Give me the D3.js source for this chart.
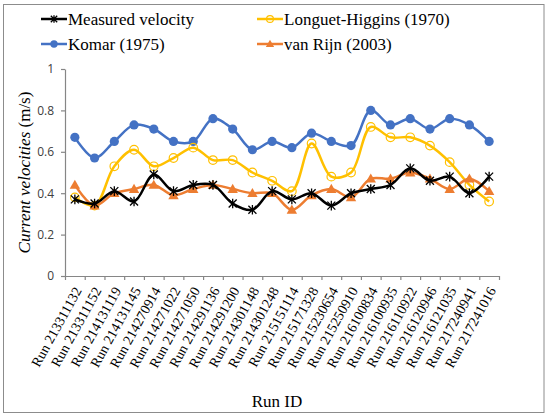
<!DOCTYPE html>
<html lang="en">
<head>
  <meta charset="UTF-8">
  <title>Current velocities by run</title>
  <script src="https://d3js.org/d3.v7.min.js"></script>
  <style>
    body { margin: 0; background: #fff; }
    svg { display: block; }
    svg text.serif { font-family: "Liberation Serif", "Times New Roman", Tinos, "DejaVu Serif", serif; }
  </style>
</head>
<body>
  <svg id="chart" width="550" height="419"></svg>
  <script>
    const runs = [
      "Run 213311132", "Run 213311152", "Run 214131119", "Run 214131145",
      "Run 214270914", "Run 214271022", "Run 214271050", "Run 214291136",
      "Run 214291200", "Run 214301148", "Run 214301248", "Run 215151114",
      "Run 215171328", "Run 215230654", "Run 215250910", "Run 216100834",
      "Run 216100935", "Run 216110922", "Run 216120946", "Run 216121035",
      "Run 217240941", "Run 217241016"
    ];
    const measured = [0.37, 0.35, 0.41, 0.36, 0.49, 0.41, 0.44, 0.44, 0.35, 0.32, 0.41,
      0.37, 0.40, 0.34, 0.40, 0.42, 0.44, 0.52, 0.46, 0.48, 0.40, 0.48];
    const longuetHiggins = [0.38, 0.34, 0.53, 0.61, 0.53, 0.57, 0.62, 0.56, 0.56, 0.50, 0.46,
      0.41, 0.64, 0.48, 0.50, 0.72, 0.67, 0.67, 0.63, 0.55, 0.44, 0.36];
    const komar = [0.67, 0.57, 0.65, 0.73, 0.71, 0.65, 0.65, 0.76, 0.71, 0.61, 0.65,
      0.62, 0.69, 0.65, 0.63, 0.80, 0.73, 0.76, 0.71, 0.76, 0.73, 0.65];
    const vanRijn = [0.44, 0.34, 0.40, 0.42, 0.44, 0.39, 0.42, 0.44, 0.42, 0.40, 0.40,
      0.32, 0.39, 0.42, 0.38, 0.47, 0.47, 0.50, 0.47, 0.42, 0.47, 0.41];
    const yTicks = [0, 0.2, 0.4, 0.6, 0.8, 1];

    const series = [
      { name: "Measured velocity", values: measured, color: "#000000", marker: "star" },
      { name: "Longuet-Higgins (1970)", values: longuetHiggins, color: "#FFC000", marker: "open" },
      { name: "Komar (1975)", values: komar, color: "#4472C4", marker: "dot" },
      { name: "van Rijn (2003)", values: vanRijn, color: "#ED7D31", marker: "tri" }
    ];
    // draw order in the plot: komar, longuet, van rijn, measured on top
    const drawOrder = [2, 1, 3, 0];

    const plot = { left: 65, right: 499, top: 69, bottom: 276 };

    const svg = d3.select("#chart");

    svg.append("rect")
      .attr("x", 3.5).attr("y", 4.5)
      .attr("width", 540.5).attr("height", 408)
      .attr("fill", "#fff")
      .attr("stroke", "#8c8c8c")
      .attr("stroke-width", 1);

    const x = d3.scaleBand()
      .domain(runs)
      .range([plot.left, plot.right]);
    const xTicks = d3.scaleLinear()
      .domain([0, runs.length])
      .range([plot.left, plot.right]);
    const y = d3.scaleLinear()
      .domain([0, 1])
      .range([plot.bottom, plot.top]);

    // y axis
    const yAxis = svg.append("g")
      .attr("transform", `translate(${plot.left},0)`)
      .call(d3.axisLeft(y).tickValues(yTicks).tickSize(4).tickSizeOuter(0)
        .tickFormat(d => (d === 0 || d === 1) ? d : d.toFixed(1)));
    yAxis.attr("font-family", "Open Sans, sans-serif").attr("font-size", 12);
    yAxis.select(".domain").attr("stroke", "#868686").attr("stroke-width", 1.2);
    yAxis.selectAll(".tick line").attr("stroke", "#868686").attr("stroke-width", 1.2);
    yAxis.selectAll(".tick text")
      .attr("x", -11)
      .attr("fill", "#404040");

    // x axis, ticks between categories
    const xAxis = svg.append("g")
      .attr("transform", `translate(0,${plot.bottom})`)
      .call(d3.axisBottom(xTicks).tickValues(d3.range(runs.length + 1))
        .tickSize(4).tickSizeOuter(0).tickFormat(""));
    xAxis.select(".domain").attr("stroke", "#868686").attr("stroke-width", 1.2);
    xAxis.selectAll(".tick line").attr("stroke", "#868686").attr("stroke-width", 1.2);

    svg.append("g")
      .selectAll("text")
      .data(runs)
      .join("text")
      .attr("class", "serif")
      .attr("transform", d => `translate(${x(d) + x.bandwidth() / 2 + 3},${plot.bottom + 12}) rotate(-61)`)
      .attr("text-anchor", "end")
      .attr("dy", "0.35em")
      .attr("font-size", 14)
      .attr("fill", "#000")
      .text(d => d);

    // axis titles
    const yTitle = svg.append("text")
      .attr("class", "serif")
      .attr("transform", `translate(30,${(plot.top + plot.bottom) / 2}) rotate(-90)`)
      .attr("text-anchor", "middle")
      .attr("font-size", 17);
    yTitle.append("tspan").attr("font-style", "italic").text("Current velocities");
    yTitle.append("tspan").text(" (m/s)");

    svg.append("text")
      .attr("class", "serif")
      .attr("x", 277).attr("y", 401)
      .attr("dy", "0.35em")
      .attr("text-anchor", "middle")
      .attr("font-size", 17)
      .text("Run ID");

    function drawMarker(g, type, color, cx, cy, s) {
      if (type === "star") {
        const r = 4 * s;
        g.append("path")
          .attr("d", `M${cx - r},${cy - r}L${cx + r},${cy + r}M${cx - r},${cy + r}L${cx + r},${cy - r}M${cx},${cy - r * 1.2}L${cx},${cy + r * 1.2}`)
          .attr("stroke", color).attr("stroke-width", 1.3).attr("fill", "none");
      } else if (type === "open") {
        g.append("circle").attr("cx", cx).attr("cy", cy).attr("r", 4.3 * s)
          .attr("fill", "none").attr("stroke", color).attr("stroke-width", 1.2);
      } else if (type === "dot") {
        g.append("circle").attr("cx", cx).attr("cy", cy).attr("r", 4.6 * s)
          .attr("fill", color);
      } else {
        const r = 5.2 * s;
        g.append("path")
          .attr("d", `M${cx},${cy - r}L${cx + r},${cy + r * 0.75}L${cx - r},${cy + r * 0.75}Z`)
          .attr("fill", color);
      }
    }

    const line = d3.line()
      .x((d, i) => x(runs[i]) + x.bandwidth() / 2)
      .y(d => y(d))
      .curve(d3.curveCatmullRom.alpha(0.5));

    drawOrder.forEach(k => {
      const s = series[k];
      const g = svg.append("g");
      g.append("path")
        .datum(s.values)
        .attr("d", line)
        .attr("fill", "none")
        .attr("stroke", s.color)
        .attr("stroke-width", 2.5);
      s.values.forEach((v, i) => {
        drawMarker(g, s.marker, s.color, x(runs[i]) + x.bandwidth() / 2, y(v), 1);
      });
    });

    // legend
    const legendPos = [
      { x: 41, y: 19 }, { x: 257, y: 19 },
      { x: 41, y: 44 }, { x: 257, y: 44 }
    ];
    series.forEach((s, k) => {
      const p = legendPos[k];
      const g = svg.append("g");
      g.append("line")
        .attr("x1", p.x).attr("x2", p.x + 26)
        .attr("y1", p.y).attr("y2", p.y)
        .attr("stroke", s.color).attr("stroke-width", 2.5);
      drawMarker(g, s.marker, s.color, p.x + 13, p.y, 0.8);
      g.append("text")
        .attr("class", "serif")
        .attr("x", p.x + 27).attr("y", p.y)
        .attr("dy", "0.35em")
        .attr("font-size", 17)
        .text(s.name);
    });
  </script>
</body>
</html>
